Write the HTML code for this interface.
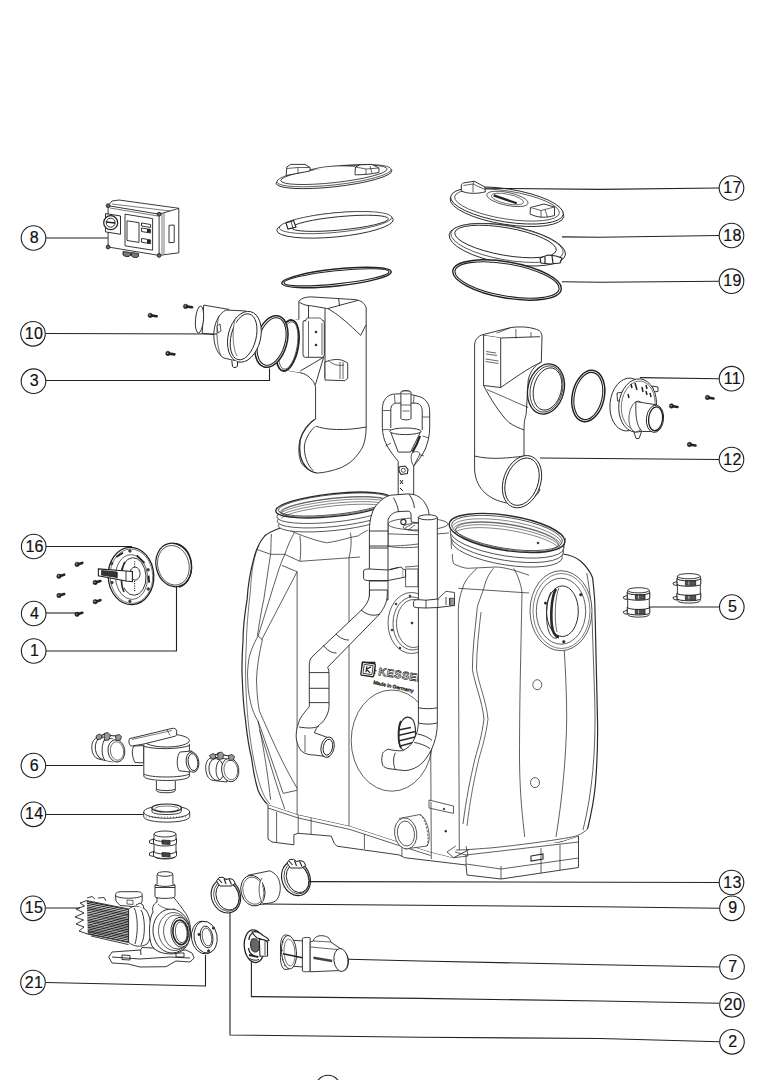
<!DOCTYPE html>
<html><head><meta charset="utf-8"><style>
html,body{margin:0;padding:0;background:#fff;}
body{width:764px;height:1080px;overflow:hidden;position:relative;}
svg{position:absolute;left:0;top:0;}
text{font-family:"Liberation Sans",sans-serif;font-size:16px;fill:#111;letter-spacing:0.3px;stroke:#111;stroke-width:0.2px;text-anchor:middle;}
</style></head><body>
<svg width="764" height="1080" viewBox="0 0 764 1080">
<g id="tank" fill="none" stroke="#2a2a2a" stroke-width="0.75">
<!-- base skirt (behind) -->
<path fill="#fff" stroke-width="0.9" d="M268 804.5 L268 839 L272 842 L293.9 844.8 L293.9 834.7 L298.2 833.3 L331.3 836.1 L334.2 843.3 L337 846.2 L399 854.9 L404.7 857.7 L453.7 863.5 L466 865 L467 875 L501 879 L578.5 867.5 L578.5 836 L560 842 L470 849 L453.7 857.7 L430.6 852 L399 842 L350 826 L298.2 814.6 Z"/>
<path d="M268 808 L298.2 818 L350 829.5 L399 845.5 L430.6 855.5 M276.6 812 L276.6 842 M298.2 815 L298.2 833.3 M311.1 818 L311.1 834 M364.4 834 L364.4 849 M401.9 846 L401.9 856"/>
<path d="M455 852 L466 855 L578.5 842 M466 855 L466 865 M501 866 L501 879 M466 864 L501 869 L578.5 858 M541 848 L541 873 M560 845 L560 870"/>
<path d="M531 856 L543 854 L543 859 L531 861 Z" stroke-width="1.1"/>
<!-- big body fill -->
<path fill="#fff" stroke="none" d="M280 527 C272 534 264 541 258.6 547.5 C254 553 252 558 250.7 563.8 C247 585 243 615 242.3 637 C241.5 660 241.8 680 242.3 690 C243 712 248 745 251.7 758.7 C254 775 260 792 268 804.5 L298.2 814.6 L350 826 L399 842 L430.6 852 L453.7 857.7 L455 848 C480 852 520 848 553 843 C568 840 582 836 587.5 829 C592 815 595 800 595.4 784.7 C598 755 599.3 720 599.3 690 C599 640 597 610 594 607.8 C592 590 590 580 587.5 573.8 C584 566 575 560 562.7 554 L450 548 L390 515 Z"/>
<!-- left tank contour -->
<path stroke-width="1.2" d="M280.4 528 C272 531 266 534 263.8 537 C259 543 256 550 254 557.8 C250 572 248 585 247.1 599.4 C244.5 615 243 630 243 641 C242 655 241.6 668 242.3 680 C243 700 244 710 245.4 719.4 C247 735 249 748 251.7 758.7 C253 770 255 780 258 790.2 C261 797 264 801 267.5 804.4"/>
<path d="M259 545 C254 556 251.5 570 250.5 590 C248 612 246.5 630 246.3 645 C245.5 660 245.3 672 245.8 685 C246.5 705 248 722 250 737 C252 752 255 768 259 782 C262 792 265 799 270 804" stroke-width="0.65"/>
<path d="M256.8 549.4 L270.7 554.3 L284.6 554.3 L299.9 561.3 L349 557.8 L360 557"/>
<path d="M271.4 534 C271 540 271 547 270.7 553.6 C268 570 266 585 263.8 599.4 C261 612 259 625 257.5 635.6 L262.4 639.7 C260 650 257 665 256.5 680 C257 695 258 705 259.6 711.5"/>
<path d="M294.3 532.8 C290 540 287 548 284.6 555 C282 560 280.5 565 279 568.9 C272 590 265 615 258.2 635.6 C253 645 249 655 248.5 662 C247.5 670 247.3 675 247.8 680 C248 690 249 695 250.2 700.5 C252 710 255 716 258 721 C262 740 266 760 270.6 799.7"/>
<path d="M281.8 565.4 L297.1 571.7 L261.7 639.7"/>
<path d="M299.9 535.6 C301 545 301 553 299.9 561.3"/>
<path d="M297.1 571.7 L297.1 814.5"/>
<path d="M258 721 C265 740 275 770 283.2 793.4 L297.4 790.2 M259.6 711.5 C270 735 283 765 297.4 788.7 M259.6 730.4 C268 755 276 785 284.8 809"/>
<!-- neck wavy line + neck side -->
<path d="M282 527 C295 533 312 540 326.6 542.8 C340 541 350 537 358 536 C362 533 366 531 368.5 529.7"/>
<path d="M350.2 532 C352 540 351 550 349 557.8"/>
<path d="M349 557.8 L349 826"/>
<!-- left ring -->
<path fill="#fff" d="M278 510 L280 526 C300 536 340 536 368.5 529.7 L391 518 L390 500 Z" stroke="none"/>
<ellipse cx="334" cy="520" rx="56" ry="10.5" transform="rotate(-6 334 520)" fill="#fff"/>
<ellipse cx="334" cy="515.5" rx="57" ry="11" transform="rotate(-6 334 515.5)" fill="#fff"/>
<ellipse cx="334" cy="511" rx="57.5" ry="11" transform="rotate(-6 334 511)" fill="#fff"/>
<ellipse cx="334" cy="505" rx="58.5" ry="11.5" transform="rotate(-6 334 505)" fill="#fff" stroke-width="1.3"/>
<ellipse cx="334" cy="504.5" rx="56" ry="10" transform="rotate(-6 334 504.5)"/>
<ellipse cx="334" cy="507" rx="53" ry="8.5" transform="rotate(-6 334 507)" stroke-width="0.6"/>
<path d="M279.6 512.1 L280.5 510.9 L282.2 509.6 L284.7 508.3 L288.0 507.0 L292.0 505.7 L296.6 504.4 L301.7 503.1 L307.4 501.9 L313.4 500.8 L319.8 499.8 L326.4 498.9 L333.0 498.1 L339.8 497.5 L346.4 497.0 L352.8 496.7 L359.0 496.5 L364.7 496.5 L370.0 496.6 L374.8 497.0 L379.0 497.4 L382.4 498.0 L385.2 498.8 L387.1 499.6 L388.3 500.6" stroke-width="0.6" stroke="#333"/>
<path d="M280.2 514.2 L281.1 513.1 L282.8 511.9 L285.3 510.6 L288.5 509.3 L292.4 508.1 L297.0 506.8 L302.1 505.6 L307.7 504.5 L313.7 503.4 L320.0 502.4 L326.5 501.5 L333.1 500.7 L339.7 500.1 L346.3 499.6 L352.6 499.3 L358.7 499.1 L364.4 499.1 L369.7 499.2 L374.4 499.5 L378.5 499.9 L381.9 500.5 L384.6 501.2 L386.5 502.0 L387.7 502.9" stroke-width="0.6" stroke="#333"/>
<path d="M280.7 516.4 L281.7 515.3 L283.4 514.1 L285.8 512.9 L289.0 511.7 L292.9 510.5 L297.4 509.3 L302.5 508.1 L308.0 507.0 L313.9 505.9 L320.1 505.0 L326.6 504.1 L333.1 503.3 L339.7 502.7 L346.2 502.2 L352.5 501.9 L358.5 501.7 L364.1 501.6 L369.3 501.7 L374.0 502.0 L378.0 502.4 L381.4 502.9 L384.1 503.6 L386.0 504.3 L387.1 505.2" stroke-width="0.6" stroke="#333"/>
<path d="M281.3 518.6 L282.3 517.5 L283.9 516.4 L286.4 515.3 L289.6 514.1 L293.4 512.9 L297.8 511.7 L302.8 510.6 L308.3 509.5 L314.2 508.5 L320.3 507.5 L326.7 506.7 L333.2 505.9 L339.7 505.3 L346.1 504.8 L352.3 504.5 L358.2 504.3 L363.8 504.2 L368.9 504.3 L373.5 504.5 L377.5 504.8 L380.9 505.3 L383.5 505.9 L385.4 506.7 L386.5 507.5" stroke-width="0.6" stroke="#333"/>
<!-- central front between tanks -->
<path d="M388 533.8 L388 546 C400 546 410 545 418 544 M388 524 L388 533.8 C410 535 430 535 449 533"/>
<ellipse cx="418" cy="524" rx="30" ry="6" fill="#fff"/>
<ellipse cx="420" cy="527" rx="17" ry="4"/>
<path d="M405 528 L412 524 M408 530 L415 525 M425 524 L432 528" stroke-width="0.7"/>
<circle cx="403.4" cy="522" r="2.6" fill="#fff" stroke-width="1.1"/>
<!-- right tank body lines -->
<path stroke-width="1.2" d="M562.7 554 C570 555 577 558 580.8 561.2 C586 566 590 571 592.6 577.7 C594 590 595 600 595 610.7 C596 650 597 690 597.5 720 C598 745 597 765 595.4 784.7 C594 800 591 815 587.5 829"/>
<path d="M586.7 573 C590 590 592 610 592.6 634 C594 680 595 700 595 720 C595 750 593 790 583 830"/>
<path d="M587.5 829 C582 834 577 836 572 837 C550 841 520 845 490 848 C475 849 465 850 455.8 850"/>
<path d="M452.4 554 C452 558 453 562 453.6 563.6 C458 566 463 568 467.7 568.3 L496 567 C505 567 520 572 529 575.3"/>
<path d="M477 568.3 C470 575 465 580 463 587 C460 595 458.3 603 458.3 610.7 L459.3 850"/>
<path d="M493.6 568.3 C488 575 486 580 484.2 587 C480 600 477 605 477 610.7 C475 630 472.4 650 472.4 669.6 C475 685 482 700 484 719 C482 735 478 748 475 758.5 C470 780 466 800 463 824"/>
<path d="M481 612 C479 630 476.5 650 476.5 669.6 C479 685 486 700 488 719 C486 735 482 748 479 758.5 C474 780 470 800 467 826" stroke-width="0.7"/>
<path d="M458.3 588.3 L477 589.5 L529 593"/>
<path d="M513.6 568.3 C518 575 521 585 522 591.8 C521.5 620 521 640 520.7 657.8 C520 690 519.5 720 519.5 760 C520 800 523 820 524.7 837"/>
<path d="M564.3 650.7 C566 680 566.7 700 566.7 720 C566 760 562 800 556 837"/>
<!-- side port -->
<ellipse cx="561" cy="610.7" rx="31" ry="40" fill="#fff"/>
<ellipse cx="561.5" cy="611" rx="28.5" ry="37.5" stroke-width="0.6"/>
<ellipse cx="561" cy="611.2" rx="24.7" ry="33" fill="#fff"/>
<ellipse cx="562.4" cy="611.2" rx="15.9" ry="25.3" fill="#fff" stroke-width="1"/>
<path d="M551 592 C546 600 545 622 549 632 C551 637 554 639 557 638" stroke-width="0.9"/>
<path d="M556 589 C551 597 550 620 553 631 C555 636 557 637 559 637" stroke-width="2.6"/>
<path d="M559 588 C555 596 554 620 557 632" stroke-width="0.7"/>
<circle cx="580.8" cy="594.7" r="1.2" fill="#222"/><circle cx="545.5" cy="603.1" r="1.2" fill="#222"/><circle cx="563.8" cy="641.8" r="1.2" fill="#222"/>
<!-- holes -->
<ellipse cx="537.3" cy="684.7" rx="4.5" ry="5"/>
<ellipse cx="535" cy="782.6" rx="4.5" ry="5"/>
<!-- right ring -->
<path fill="#fff" stroke="none" d="M450 530 L451 548 C480 563 530 565 563 556 L566 538 Z"/>
<path d="M451 530 L451.4 549 M565.5 538 L562.7 554"/>
<ellipse cx="507" cy="549" rx="56" ry="16" transform="rotate(9 507 549)" fill="#fff"/>
<ellipse cx="507" cy="544" rx="57" ry="16.5" transform="rotate(9 507 544)" fill="#fff"/>
<ellipse cx="507" cy="539.5" rx="57.5" ry="16.5" transform="rotate(9 507 539.5)" fill="#fff"/>
<ellipse cx="507" cy="533" rx="58.5" ry="17.5" transform="rotate(9 507 533)" fill="#fff" stroke-width="1.4"/>
<ellipse cx="507" cy="533" rx="56" ry="15.5" transform="rotate(9 507 533)"/>
<ellipse cx="507" cy="537" rx="52" ry="12.5" transform="rotate(9 507 537)" stroke-width="0.6"/>
<path d="M453.2 525.5 L454.5 523.9 L456.6 522.6 L459.5 521.4 L463.1 520.4 L467.3 519.6 L472.2 519.1 L477.5 518.8 L483.4 518.8 L489.5 519.0 L496.0 519.5 L502.6 520.2 L509.3 521.2 L515.9 522.3 L522.4 523.7 L528.7 525.2 L534.6 526.9 L540.1 528.7 L545.2 530.7 L549.6 532.7 L553.4 534.7 L556.5 536.7 L558.9 538.7 L560.4 540.7 L561.2 542.6" stroke-width="0.6" stroke="#333"/>
<path d="M453.8 528.1 L455.1 526.6 L457.2 525.2 L460.0 524.1 L463.5 523.2 L467.7 522.5 L472.5 522.0 L477.8 521.8 L483.6 521.8 L489.7 522.0 L496.0 522.5 L502.6 523.2 L509.2 524.2 L515.7 525.3 L522.2 526.6 L528.4 528.2 L534.2 529.8 L539.7 531.6 L544.7 533.4 L549.1 535.4 L552.9 537.3 L555.9 539.3 L558.3 541.3 L559.8 543.2 L560.6 545.0" stroke-width="0.6" stroke="#333"/>
<path d="M454.4 530.6 L455.7 529.2 L457.7 527.9 L460.5 526.9 L464.0 526.0 L468.1 525.3 L472.8 524.9 L478.1 524.7 L483.8 524.7 L489.8 525.0 L496.1 525.5 L502.5 526.2 L509.1 527.2 L515.6 528.3 L521.9 529.6 L528.1 531.1 L533.9 532.7 L539.3 534.4 L544.2 536.2 L548.6 538.1 L552.3 540.0 L555.4 541.9 L557.7 543.8 L559.2 545.6 L560.0 547.3" stroke-width="0.6" stroke="#333"/>
<path d="M455.0 533.2 L456.2 531.8 L458.2 530.6 L461.0 529.6 L464.4 528.8 L468.5 528.2 L473.2 527.8 L478.3 527.6 L484.0 527.7 L489.9 528.0 L496.1 528.5 L502.5 529.2 L509.0 530.2 L515.4 531.3 L521.7 532.6 L527.8 534.0 L533.5 535.6 L538.9 537.2 L543.8 539.0 L548.1 540.8 L551.8 542.6 L554.8 544.5 L557.1 546.3 L558.6 548.0 L559.4 549.7" stroke-width="0.6" stroke="#333"/>
<circle cx="538" cy="543" r="0.9" fill="#222"/>
<!-- central front details -->
<path d="M388 546 C395 548 405 548 418 547"/>
<rect x="405.7" y="569" width="12.3" height="17.8" fill="#fff"/>
<path d="M405 567 L418 566" />
<ellipse cx="411.5" cy="623" rx="23.5" ry="30.5" fill="#fff"/>
<ellipse cx="412.5" cy="623.5" rx="19.5" ry="26.5"/>
<ellipse cx="413.5" cy="623.5" rx="17" ry="24"/>
<circle cx="412" cy="623" r="1" fill="#222"/>
<circle cx="396" cy="604" r="0.9" fill="#222"/><circle cx="392" cy="630" r="0.9" fill="#222"/><circle cx="400" cy="648" r="0.9" fill="#222"/><circle cx="410" cy="596" r="0.9" fill="#222"/>
<!-- big circle -->
<ellipse cx="391.8" cy="740.6" rx="40.6" ry="50.6" stroke-width="0.75"/>
<path d="M402 721 C398 726 397.5 742 401 748 C404 752 409 751 412 746 C416 740 417 728 413 720 C410 716 405 716 402 721 Z" fill="#fff" stroke-width="1.1"/>
<path d="M398.5 730 L411 727.5 M398 735.5 L415.5 731.5 M398.5 741 L415 737 M400.5 746 L413 742.5" stroke-width="1.5"/>
<path d="M401 721 C398 726 397.5 742 401 748" stroke-width="1.8"/>
<!-- bottom outlet -->
<path d="M399 818.5 L420 814.5 C428 818 432 840 427 846 L405 849" fill="#fff"/>
<path d="M420 814.5 C426 818 430 840 427 846" stroke-dasharray="2 1.5"/>
<ellipse cx="405.7" cy="833.4" rx="11.1" ry="15.6" transform="rotate(-8 405.7 833.4)" fill="#fff"/>
<ellipse cx="405.9" cy="833.5" rx="8.5" ry="12.5" transform="rotate(-8 405.9 833.5)"/>
<path d="M430.4 690 L431.3 859"/>
<path d="M429 800 L453.5 806 L453.5 813.4 L429 808 Z" fill="#fff"/>
<path d="M431 802 L431 808" />
<circle cx="444" cy="809" r="0.8" fill="#222"/>
<circle cx="445.7" cy="831.2" r="0.9" fill="#222"/>
<path d="M455.8 846 L447 852 L453.7 857.7 L468 856 L466 846" />
<!-- logo -->
<rect x="362.3" y="662.4" width="12.3" height="11.1" stroke-width="1.4" fill="#fff"/>
<path d="M365 665 L371.5 665 L371.5 671 L365 671 Z" stroke-width="0.7"/>
<path d="M366.5 666 L366.5 670 M366.5 668 L370 666 M366.5 668 L370 670" stroke-width="1.1"/>
</g>
<g transform="rotate(8.5 368 670)">
<rect x="361.5" y="663" width="13" height="13" rx="1" fill="#fff" stroke="#222" stroke-width="1.3"/>
<rect x="363.5" y="665" width="9" height="9" fill="none" stroke="#222" stroke-width="0.8"/>
<path d="M366.3 666.5 L366.3 672.5 M366.3 669.5 L370.5 666.5 M366.3 669.5 L370.5 672.5 M374.5 669.5 L376.5 669.5" fill="none" stroke="#222" stroke-width="1.2"/>
</g>
<text x="378" y="675" transform="rotate(9 378 675)" style="font-size:10.8px;font-weight:bold;letter-spacing:0.5px;text-anchor:start;fill:#fff;stroke:#222;stroke-width:0.7px">KESSEL</text>
<text x="373" y="684" transform="rotate(12 373 684)" style="font-size:5.2px;font-weight:bold;text-anchor:start;letter-spacing:-0.15px">Made in Germany</text>
<g id="pipes" fill="#fff" stroke="#222" stroke-width="0.9">
<!-- float switch -->
<path d="M398.2 494.6 L398.2 461.2 C392 454 387 447 384.5 440 C382.8 435 382.3 430 382.3 424 L382.3 410 C382.3 400 387 394.5 395 394 L401 393.8 L411 394.5 L417 396 C425 397.5 429.7 403 429.7 412 L429.7 428 C429.7 436 427.5 443 425.4 449 C422 456 417 462 413.7 466 L413.7 494.6 Z"/>
<path d="M390.8 428 L390.8 410 C390.8 405.5 393 403.1 397.5 403.1 L415 403.1 C419.5 403.1 422.2 406 422.2 411 L422.2 430"/>
<path d="M390.3 431 L398.2 452.1 L410.5 452.1 L421 431"/>
<ellipse cx="405.4" cy="431.3" rx="15.7" ry="3.3"/>
<path d="M383 410.5 L390.8 410.5 M383 429.6 L390.8 429.6 M422.2 417 L429.7 417 M422.5 436 L429 438 M391 443 L385.5 446 M418 454 L424 456 M394.5 395 L395 403 M414 395.5 L413.5 403.1" stroke-width="0.7"/>
<path d="M400.9 418.5 L400.9 392.5 C400.9 390 411 390 411 392.5 L411 418.5 C411 420.3 400.9 420.3 400.9 418.5 Z"/>
<ellipse cx="405.95" cy="392.5" rx="5.05" ry="1.6" stroke-width="0.7"/>
<path d="M400.9 405 L411 405 M402.5 411 L409.5 411" stroke-width="0.7"/>
<path d="M420 436 C418 442 415 448 412.5 452" stroke-width="2.2"/>
<path d="M412 453 C415 451 419 451 420 454 L413.7 466 C411 462 410.5 457 412 453 Z" stroke-width="0.8"/>
<path d="M399 467 L405 466 L408 469.5 L407.3 473.5 L401 474.5 L399 471 Z" stroke-width="1.1"/>
<circle cx="403.3" cy="470.3" r="2" stroke-width="0.8"/>
<path d="M400 480 L403 484 M403 480 L400 484 M400 488 L403 491" stroke-width="1"/>
<!-- left pipe U top -->
<path d="M369.4 600 L369.4 531 C369.4 518 373 508 377.7 503.8 C383 498 388 495 393.4 495 L407 493.9 C412 494 414 494.5 416.5 495.5 C420 497 423 500 424.8 502.8 C427.5 507 429 511 429 514.3 L429.5 524 L411.2 522 L411 514 C410.5 512 410 511.2 407 511.2 L400 511.5 C395 511.5 390 514 388 520 L388 600 Z"/>
<path d="M393.4 497.6 C396 502 398 507 398.6 512.2 M409.1 494.4 C412 498 414 503 414.4 508" stroke-width="0.9"/>
<path d="M369.4 531 L388 531 M369.4 546 L388 546 M369.4 548 L388 548"/>
<!-- left pipe diagonal + lower -->
<path d="M369.5 590 L369.5 594 C369.5 600 366 606 359 612.4 L312 656.9 C310 659 309.3 662 309.3 664.7 L309.3 706.6 C305 712 299.5 718 298.8 722.3 C296.5 728 296 733 296.2 738 C297 744 299 748 301.4 751 C305 754 309 755 314.5 755 L329 757 L329 738 L314.5 732.8 C316 727 320 724 322.4 722.3 C326 718 329 712 329 706.6 L329 675 C329 671 328.5 669 327.6 667.3 L378.7 615 C383 610 387.3 603 387.3 594 L387.3 590 Z"/>
<path d="M369.5 581 L387.3 581"/>
<path d="M361 610 C366 614 372 617 380 614 M336 634 C340 638 344 640 349 640 M323 645 C327 650 331 653 336.5 653 M309.3 672.6 L329 672.6 M309.3 688.3 L329 688.3 M309.3 702.6 L329 702.6 M299 727 C306 728 313 729 319 726"/>
<path d="M305 735 L305 752" stroke-width="0.7"/>
<ellipse cx="327.6" cy="747.2" rx="6.5" ry="10.3" transform="rotate(12 327.6 747.2)"/>
<ellipse cx="327.9" cy="747.2" rx="4.6" ry="8" transform="rotate(12 327.9 747.2)"/>
<!-- right pipe -->
<path d="M418.4 517.3 L418.4 723.5 C418 728 417.5 731 416.3 734 C414 740 412 744 409 746.5 C406 749 404 750 402.7 750.7 C398 751 393 750.5 388 749.2 C384 751 382 753 382.3 755 C381.5 759 381.5 762 382.8 765.4 C384 767 386 768 388 768.5 L395.4 769.6 L404.8 770.6 C414 770 422 765 427 757 C432 750 437.3 738 437.3 723.5 L437.3 517.3 Z"/>
<ellipse cx="427.8" cy="517.3" rx="9.45" ry="2.5"/>
<path d="M418.4 707.8 C425 709 431 709 437.3 707.8 M418.4 723 C425 724.5 431 724.5 437.3 723 M417.4 734 C423 735 428 737 432 740.3 M414.2 742.4 C420 743.5 426 745.5 430 748.6 M395.4 752.8 C393 757 393 765 395.4 769.6"/>
<!-- brackets -->
<path d="M363.6 571 C363.6 569.5 366 569 369.4 569 L388 570 L401 567 L403.2 569 L403.2 577.5 L388 580.5 L369.4 580.5 C366 580.5 363.6 580 363.6 578.5 Z"/>
<path d="M388 570 L388 580.5 M390 569.5 L398 567.5"/>
<path d="M403.2 569 L405.5 570 L405.5 577 L403.2 577.5" />
<path d="M413.6 601.5 C413.6 600.3 415 599.7 418.3 599.7 L426 600.2 L437.8 599 L445 597.5 L454.5 598.5 L454.5 605.5 L437.8 607.5 L426 608 L418.3 607.7 C415 607.5 413.6 607 413.6 606 Z"/>
<path d="M426 600.2 L426 608 M437.8 599 L437.8 607.5 M437.8 599 L446 591.3 L454.5 592.5 L454.5 598.5 M446 597 L446 605 M449.5 598 L449.5 605" stroke-width="0.8"/>
<path d="M450 598 L454.5 598.5 L454.5 605.5 L450 605.5 Z" fill="#999" stroke-width="0.6"/>
</g>
<g id="toplids" fill="#fff" stroke="#222" stroke-width="0.9">
<!-- left lid -->
<ellipse cx="334" cy="177" rx="58.2" ry="9.8" transform="rotate(-6.3 334 177)"/>
<ellipse cx="334" cy="175.6" rx="57.5" ry="9.3" transform="rotate(-6.3 334 175.6)" stroke-width="0.7"/>
<ellipse cx="334" cy="174.8" rx="53.5" ry="7.8" transform="rotate(-6.3 334 174.8)" stroke-width="0.8"/>
<path d="M312.5 170 C318 166.5 340 165 355 166.5" stroke-width="0.7"/>
<path d="M286.2 175 L286.8 167 L290.5 164.4 L305 164.4 L310 167.5 L310 171 C302 172.5 294 174 286.2 175.5 Z"/>
<path d="M287 168.5 L298 167.5 L310 167.5 M298 167.5 L298 173.5" stroke-width="0.7"/>
<path d="M355 173.5 L355.5 167 L360 164.8 L372 164.4 L378.9 168 L378.9 172.5 C372 174 362 175 355 174.8 Z"/>
<path d="M355.5 167 L366 169 L378.9 168 M366 169 L366 174.5 M370 166 L372 173" stroke-width="0.7"/>
<!-- left ring -->
<ellipse cx="335" cy="225" rx="58.5" ry="12" transform="rotate(-5.4 335 225)"/>
<ellipse cx="335.5" cy="222.6" rx="56.5" ry="9.8" transform="rotate(-5.4 335.5 222.6)" stroke-width="0.7"/>
<ellipse cx="340" cy="223.3" rx="48.6" ry="6.7" transform="rotate(-5.4 340 223.3)"/>
<path d="M286 223 L293.5 220.5 L296 227 L288 229 Z" stroke-width="1.1"/>
<path d="M291 221.5 L293 228" stroke-width="0.8"/>
<!-- left gasket -->
<ellipse cx="336.5" cy="277.5" rx="55" ry="8.5" transform="rotate(-6 336.5 277.5)" stroke-width="1.4"/>
<ellipse cx="336.5" cy="277.3" rx="52.8" ry="6.6" transform="rotate(-6 336.5 277.3)" stroke-width="1.1"/>
<!-- right lid 17 -->
<ellipse cx="507" cy="207.5" rx="57.5" ry="17" transform="rotate(9 507 207.5)"/>
<ellipse cx="507" cy="205.5" rx="57" ry="16.5" transform="rotate(9 507 205.5)"/>
<ellipse cx="507" cy="205" rx="53" ry="14" transform="rotate(9 507 205)" stroke-width="0.7"/>
<ellipse cx="507.4" cy="198.9" rx="21" ry="6.5" transform="rotate(12 507.4 198.9)" stroke-width="0.7"/>
<ellipse cx="507.4" cy="199" rx="16.5" ry="4.8" transform="rotate(12 507.4 199)" stroke-width="0.6"/>
<path d="M493.7 195.4 L516.8 203.3" stroke-width="2.2"/>
<path d="M461.3 191 L461.3 185 C462 183.5 463 183 463.4 182.9 L474.4 181.3 L484.8 187 L485.4 191.8 C477 194 468 194 461.3 191 Z"/>
<path d="M463.4 185.5 L473 184 L484.8 189.5 M473 184 L474.4 181.3 M473 184 L473 192.5" stroke-width="0.7"/>
<path d="M530 214 L530.5 207.5 L544 204 L554.5 207 L554.5 215.5 C546 218 538 218 530 214 Z"/>
<path d="M530.5 207.5 L541 210.5 L554.5 207 M541 210.5 L541 217.5 M545 209.5 L547.5 217" stroke-width="0.7"/>
<!-- right ring 18 -->
<ellipse cx="507.3" cy="244.7" rx="59" ry="19" transform="rotate(10 507.3 244.7)"/>
<ellipse cx="507" cy="243" rx="57" ry="17" transform="rotate(10 507 243)" stroke-width="0.7"/>
<ellipse cx="505.5" cy="241.5" rx="51.5" ry="13.8" transform="rotate(10 505.5 241.5)"/>
<path d="M540 258 L548 255 L556 256 L562 258 L560 263 L550 264 L541 263 Z" stroke-width="1.2"/>
<path d="M545 257 L545 263 M552 256 L553 263" stroke-width="1.2"/>
<!-- right gasket 19 -->
<ellipse cx="507" cy="280" rx="55" ry="18" transform="rotate(10 507 280)" stroke-width="1.4"/>
<ellipse cx="507" cy="280" rx="52.8" ry="16" transform="rotate(10 507 280)" stroke-width="1.1"/>
</g>
<g id="box8" fill="#fff" stroke="#222" stroke-width="0.9">
<path d="M108.1 205.7 L112 201 L119 200 L178.8 208.3 L178.8 252.8 L159.1 255.4 L108.1 247 Z"/>
<path d="M108.1 205.7 L159.1 214.2 L178.8 208.3 M159.1 214.2 L159.1 255.4"/>
<path d="M110 208 L158 216 M112 204 L170 211" stroke-width="0.6"/>
<path d="M162 214 L162 254 M164 213 L164 254" stroke-width="0.6"/>
<rect x="105.5" y="213.6" width="15" height="18.3" transform="skewY(9)" transform-origin="105.5 213.6"/>
<circle cx="110.7" cy="222.7" r="7" stroke-width="1.2"/>
<circle cx="110.7" cy="222.7" r="4.5"/>
<path d="M106 222 L115 223" stroke-width="1.5"/>
<path d="M125 214.2 L152.6 218.6 L152.6 250.2 L125 245.8 Z"/>
<path d="M127 220.8 L139 222.7 L139 242.4 L127 240.5 Z"/>
<path d="M141.5 223 L150.6 224.5 L150.6 227.5 L141.5 226 Z M141.5 228 L150.6 229.5 L150.6 233 L141.5 231.5 Z M141.5 238.4 L150.6 239.9 L150.6 243.7 L141.5 242.2 Z"/>
<rect x="147" y="229" width="3" height="3.5" fill="#222" stroke="none"/>
<rect x="147" y="240" width="3" height="3.5" fill="#222" stroke="none"/>
<path d="M169 225.3 L174.2 225 L174.2 242.4 L169 242.7 Z"/>
<circle cx="108.1" cy="205.7" r="1.9" fill="#666"/>
<circle cx="108.1" cy="247" r="1.9" fill="#666"/>
<circle cx="159.1" cy="214.2" r="1.9" fill="#666"/>
<circle cx="159.1" cy="255.4" r="1.9" fill="#666"/>
<path d="M123 251.5 L123 255 C125 257 129 257 130.5 255.5 L130.5 252.5 Z M131.5 252.5 L131.5 256 C133.5 258 137 258 138.5 256.5 L138.5 253.5 Z" fill="#777" stroke-width="0.9"/>
</g>
<g id="tpipes" fill="#fff" stroke="#222" stroke-width="0.9">
<!-- left T pipe -->
<path d="M298.9 301 C302 298 306 296.9 311.2 296.9 L355.2 299.6 C361 300.5 364.8 303 366.2 308 L366.2 427 C366 438 364 446 360.4 450.7 C354 461 345 467 335.6 469.5 C328 472 320 473 316.8 473 C310 471 304 468 301 462 C298 455 298.5 445 300.3 438.9 C303 430 309 422 315.6 418.9 L315.6 387 C314 383 313.5 381 312.6 380.7 C309 376 305 373.5 299.5 372.5 L287.9 370.4 L289.2 321.6 L298.9 319.5 Z"/>
<path d="M299.5 302.4 C303 304.5 307 305.8 311.2 305.8 L327.7 308.6 L358 300.3"/>
<path d="M338.7 299 L339.5 306"/>
<path d="M327.7 308.6 C338 314 350 325 360.7 335.4 L366.2 324.4"/>
<path d="M308.5 305.5 L308.5 320.2 M325 308.6 L325 378"/>
<path d="M315.6 426 C325 430 345 431 366.3 427"/>
<path d="M315.6 418.9 C309 423 302 432 300.3 440 C298.8 450 299.5 460 306.2 467.2 C309 470.5 313 472.5 316.8 473" stroke-width="1.1"/>
<path d="M315 426.5 C309 432 305 440 304.4 446 C304 455 307 465 313.3 470.7"/>
<path d="M323.6 357.3 L300.2 371 M323.6 357.3 L315.4 384.8"/>
<rect x="303" y="320.2" width="21.3" height="37.1" rx="2.5"/>
<path d="M308.5 321 L308.5 357 M322 323 L322 355 M305 322 L307 318 L320 318 L324.3 322" stroke-width="0.7"/>
<circle cx="316" cy="332" r="0.9" fill="#222"/><circle cx="316" cy="345" r="0.9" fill="#222"/>
<path d="M325 362 C330 360 338 358 344 361 L347.7 363 L347.7 378 L345 380.7 L325 380 Z"/>
<path d="M340 362 L340 379 M343 362 L343 379 M328 360 C333 365 338 366 344 365" stroke-width="0.7"/>
<path d="M276.5 335 C278 326 284 320 290 320 L299.5 319.5 L299.5 372.5 L288 370.4 C282 370 277 360 276.5 350 Z" stroke="none"/>
<ellipse cx="287.5" cy="345.5" rx="10.8" ry="25.8" transform="rotate(10 287.5 345.5)" stroke-width="1.8"/>
<ellipse cx="288.2" cy="345.5" rx="9" ry="24" transform="rotate(10 288.2 345.5)" stroke-width="0.7"/>
<!-- gasket 3 -->
<ellipse cx="271.4" cy="341.5" rx="15.5" ry="26.5" transform="rotate(16 271.4 341.5)" stroke-width="1.5"/>
<ellipse cx="271.6" cy="341.5" rx="13.4" ry="24.4" transform="rotate(16 271.6 341.5)" stroke-width="1.1"/>
<!-- adapter 10 -->
<path d="M203.7 305.1 L228.9 309.4 L226 336 L213.8 334.6 L202.2 333.2 Z"/>
<ellipse cx="199.5" cy="319.5" rx="4" ry="13.5" transform="rotate(5 199.5 319.5)"/>
<path d="M226 310 C218 314 213.5 325 213.8 336 C214 346 218 355 224 358 L240 362 L246 311 Z"/>
<path d="M219 316 C216 325 216 345 221 356" stroke-width="0.7"/>
<path d="M217 326 L220 324 L221 331 L218 333 Z" stroke-width="0.8"/>
<ellipse cx="244.4" cy="336.8" rx="16.2" ry="25.9" transform="rotate(14 244.4 336.8)"/>
<ellipse cx="243.6" cy="336.8" rx="12.5" ry="23.5" transform="rotate(14 243.6 336.8)"/>
<path d="M236 317 C232 326 232 348 237 356" stroke-width="0.6"/>
<path d="M231.8 360.6 L232.5 366.5 C233.5 368 236.5 368 237.5 366 L237.5 361.5" stroke-width="1"/>
<!-- right T pipe -->
<path d="M474.6 345 C474.6 340 478 336 482.9 334.6 L510.4 327.7 C520 326 532 327 539.2 330.5 C541 332 542 334 542 337 L541.3 362.1 C534 366 530 372 528.2 380 L526.2 414.3 C525 418 524 422 524 430 L524 456 L540 490 C535 500 522 505 507 503 C490 500 476 490 474.6 470 Z"/>
<path d="M482.9 335.3 L500.7 338 L539.9 336.7"/>
<path d="M496.6 333.2 L510.4 327.7 M515.9 329 L515.9 338.5 M531 332 L531 337.2" stroke-width="0.7"/>
<path d="M483.6 335.5 L483.6 385.5 L500.7 387.5 L500.7 338"/>
<path d="M500.7 387.5 C512 380 528 368 541.3 362.1"/>
<path d="M483.6 385.5 C490 398 500 414 509 422.6 C514 426 519 428 524 430"/>
<path d="M487 389.6 C500 395 515 402 528.2 407.5" stroke-width="0.7"/>
<path d="M474.4 456 C490 460 510 458 524 456"/>
<ellipse cx="546" cy="389" rx="18" ry="25.4" transform="rotate(14 546 389)" stroke-width="1.3"/>
<ellipse cx="546.5" cy="389" rx="16" ry="23.5" transform="rotate(14 546.5 389)" stroke-width="0.8"/>
<ellipse cx="547.5" cy="389" rx="13.8" ry="21.5" transform="rotate(14 547.5 389)"/>
<ellipse cx="522" cy="481.7" rx="18.5" ry="27" transform="rotate(20 522 481.7)"/>
<ellipse cx="522" cy="481.7" rx="16" ry="24.5" transform="rotate(20 522 481.7)"/>
<path d="M486 351.5 L496 353 M486 354 L497 355.5 M485.5 359 L498.5 361 M485.5 361.5 L498.5 363.5" stroke-width="0.9" stroke="#555"/>
<!-- gasket 11b -->
<ellipse cx="588.3" cy="396" rx="16" ry="26" transform="rotate(12 588.3 396)" stroke-width="1.5"/>
<ellipse cx="588.3" cy="396" rx="13.9" ry="23.9" transform="rotate(12 588.3 396)" stroke-width="1.1"/>
<!-- part 11 -->
<ellipse cx="628" cy="404.5" rx="18" ry="26.5" transform="rotate(6 628 404.5)"/>
<path d="M617 393 L623.6 392 L623.6 401.6 L617.5 401 Z M652.6 386 L658 387 L658 391.4 L653 392 Z M633.8 431.5 L641.6 431.5 L639 438.5 L636 438.5 Z" stroke-width="0.9"/>
<ellipse cx="637.6" cy="405.5" rx="18.8" ry="26.7" transform="rotate(6 637.6 405.5)"/>
<ellipse cx="638.2" cy="405.5" rx="16.8" ry="24.5" transform="rotate(6 638.2 405.5)" stroke-width="0.6"/>
<path d="M631 384 L632 388 M635 383 L637 390 M642 387 L643 392 M646 385 L647 389 M646 391 L647 395 M650 393 L651 397 M628 394 L629 398" stroke-width="1.5"/>
<ellipse cx="637" cy="416.5" rx="8" ry="15.5" transform="rotate(6 637 416.5)" stroke-width="0.7"/>
<path d="M636 401.6 L656.5 404.8 L654.2 431.5 L642.4 431.5 C638 428 635 420 636 401.6 Z"/>
<ellipse cx="655" cy="418.8" rx="8.6" ry="13.7" transform="rotate(6 655 418.8)"/>
<ellipse cx="655.6" cy="418.8" rx="7" ry="12" transform="rotate(6 655.6 418.8)" stroke-width="1.3"/>
</g>
<g id="screws" fill="#222" stroke="#222">
<path d="M77.1 564.4 L82.3 562.9" stroke-width="2.6" stroke-linecap="round"/><circle cx="77.1" cy="564.4" r="2.2" stroke-width="0.6"/><circle cx="76.7" cy="564.1" r="0.8" fill="#aaa" stroke="none"/>
<path d="M59.0 576.2 L64.2 574.7" stroke-width="2.6" stroke-linecap="round"/><circle cx="59.0" cy="576.2" r="2.2" stroke-width="0.6"/><circle cx="58.6" cy="575.9" r="0.8" fill="#aaa" stroke="none"/>
<path d="M95.2 582.5 L100.4 581.0" stroke-width="2.6" stroke-linecap="round"/><circle cx="95.2" cy="582.5" r="2.2" stroke-width="0.6"/><circle cx="94.8" cy="582.2" r="0.8" fill="#aaa" stroke="none"/>
<path d="M59.0 595.5 L64.2 594.0" stroke-width="2.6" stroke-linecap="round"/><circle cx="59.0" cy="595.5" r="2.2" stroke-width="0.6"/><circle cx="58.6" cy="595.2" r="0.8" fill="#aaa" stroke="none"/>
<path d="M95.2 601.7 L100.4 600.2" stroke-width="2.6" stroke-linecap="round"/><circle cx="95.2" cy="601.7" r="2.2" stroke-width="0.6"/><circle cx="94.8" cy="601.4" r="0.8" fill="#aaa" stroke="none"/>
<path d="M77.1 614.3 L82.3 612.8" stroke-width="2.6" stroke-linecap="round"/><circle cx="77.1" cy="614.3" r="2.2" stroke-width="0.6"/><circle cx="76.7" cy="614.0" r="0.8" fill="#aaa" stroke="none"/>
<path d="M150.2 315.4 L156.7 316.3" stroke-width="2.6" stroke-linecap="round"/><circle cx="150.2" cy="315.4" r="2.2" stroke-width="0.6"/><circle cx="149.8" cy="315.1" r="0.8" fill="#aaa" stroke="none"/>
<path d="M185.6 306.4 L192.1 307.3" stroke-width="2.6" stroke-linecap="round"/><circle cx="185.6" cy="306.4" r="2.2" stroke-width="0.6"/><circle cx="185.2" cy="306.1" r="0.8" fill="#aaa" stroke="none"/>
<path d="M167.9 353.5 L174.4 354.4" stroke-width="2.6" stroke-linecap="round"/><circle cx="167.9" cy="353.5" r="2.2" stroke-width="0.6"/><circle cx="167.5" cy="353.2" r="0.8" fill="#aaa" stroke="none"/>
<path d="M671.5 406.0 L677.5 407.0" stroke-width="2.6" stroke-linecap="round"/><circle cx="671.5" cy="406.0" r="2.2" stroke-width="0.6"/><circle cx="671.1" cy="405.7" r="0.8" fill="#aaa" stroke="none"/>
<path d="M707.5 397.5 L713.5 398.5" stroke-width="2.6" stroke-linecap="round"/><circle cx="707.5" cy="397.5" r="2.2" stroke-width="0.6"/><circle cx="707.1" cy="397.2" r="0.8" fill="#aaa" stroke="none"/>
<path d="M689.5 444.5 L695.5 445.5" stroke-width="2.6" stroke-linecap="round"/><circle cx="689.5" cy="444.5" r="2.2" stroke-width="0.6"/><circle cx="689.1" cy="444.2" r="0.8" fill="#aaa" stroke="none"/>
</g>
<g fill="#fff" stroke="#222" stroke-width="0.9">
<!-- flange 16 -->
<ellipse cx="131" cy="576" rx="22.8" ry="28.7" transform="rotate(-3 131 576)" stroke-width="1.3"/>
<ellipse cx="131.4" cy="576.2" rx="21.3" ry="27.2" transform="rotate(-3 131.4 576.2)" stroke-width="0.6"/>
<ellipse cx="131.5" cy="577" rx="16" ry="22.3" transform="rotate(-3 131.5 577)" stroke-width="0.7"/>
<ellipse cx="133.5" cy="576.5" rx="12.5" ry="18.8" transform="rotate(-3 133.5 576.5)" stroke-width="0.9"/>
<path d="M125 562 C121 568 120 584 124 592" stroke-width="1.6"/>
<path d="M116.3 557 L123 552.8 M136.7 555.3 L144.4 563 M148.6 575.7 L149.2 582.6" stroke-width="1.8"/>
<circle cx="129.9" cy="551" r="1.2" fill="#666"/><circle cx="111.6" cy="563.4" r="1.2" fill="#666"/><circle cx="148.2" cy="569.8" r="1.2" fill="#666"/><circle cx="112" cy="582.6" r="1.2" fill="#666"/><circle cx="148.2" cy="589" r="1.2" fill="#666"/><circle cx="129.9" cy="601.3" r="1.2" fill="#666"/>
<path d="M134.6 561.3 L134.6 591.9" stroke-dasharray="1 1.2" stroke-width="1.2"/>
<ellipse cx="135" cy="573.6" rx="5.1" ry="6.5"/>
<path d="M98.4 568.9 L126 571 L132.4 571.5 L132.4 581.7 L126 581 L98.4 575.7 Z" stroke-width="1.1"/>
<path d="M101.5 570.5 L117 572 L117 577.5 L101.5 575 Z" fill="#333" stroke-width="0.8"/>
<path d="M126 571 L126 581 M117 572 L117 578.5"/>
</g>
<g fill="none" stroke="#222">
<!-- gasket 1 -->
<ellipse cx="173.7" cy="565" rx="17.6" ry="22" transform="rotate(-14 173.7 565)" stroke-width="1.2"/>
<path d="M176 543.5 C186 546 192 556 191.5 568 C191 578 186 585 179 587" stroke-width="1.4"/>
<ellipse cx="173.4" cy="565.3" rx="15.6" ry="20" transform="rotate(-14 173.4 565.3)" stroke-width="0.7"/>
</g>
<g fill="#fff" stroke="#222" stroke-width="0.9">
<!-- couplings 5 -->
<path d="M627.7 590.3 L627.7 614.5 C627.7 618.0 649.3 618.0 649.3 614.5 L649.3 590.3"/>
<ellipse cx="638.5" cy="590.3" rx="10.8" ry="2.6"/>
<path d="M627.2 592.5 C627.2 595.5 649.8 595.5 649.8 592.5 L649.8 598.0 C649.8 601.0 627.2 601.0 627.2 598.0 Z" stroke-width="1"/>
<path d="M627.2 595.5 L623.2 597.0 L624.2 599.0 L627.2 599.5 Z" stroke-width="0.9"/>
<path d="M635.3 595.0 L645.0 595.0 L645.0 599.3 L635.3 599.3 Z" fill="#555" stroke-width="0.8"/>
<path d="M638.5 595.5 L638.5 598.8" stroke="#fff" stroke-width="0.6"/>
<path d="M627.2 607.2 C627.2 610.2 649.8 610.2 649.8 607.2 L649.8 612.7 C649.8 615.7 627.2 615.7 627.2 612.7 Z" stroke-width="1"/>
<path d="M627.2 610.2 L623.2 611.7 L624.2 613.7 L627.2 614.2 Z" stroke-width="0.9"/>
<path d="M635.3 609.7 L645.0 609.7 L645.0 614.0 L635.3 614.0 Z" fill="#555" stroke-width="0.8"/>
<path d="M638.5 610.2 L638.5 613.5" stroke="#fff" stroke-width="0.6"/>
<path d="M677.4 576.2 L677.4 600.5 C677.4 604.0 700.3 604.0 700.3 600.5 L700.3 576.2"/>
<ellipse cx="688.8" cy="576.2" rx="11.4" ry="2.6"/>
<path d="M676.9 578.5 C676.9 581.5 700.8 581.5 700.8 578.5 L700.8 584.0 C700.8 587.0 676.9 587.0 676.9 584.0 Z" stroke-width="1"/>
<path d="M676.9 581.5 L672.9 583.0 L673.9 585.0 L676.9 585.5 Z" stroke-width="0.9"/>
<path d="M685.4 581.0 L695.7 581.0 L695.7 585.3 L685.4 585.3 Z" fill="#555" stroke-width="0.8"/>
<path d="M688.8 581.5 L688.8 584.8" stroke="#fff" stroke-width="0.6"/>
<path d="M676.9 593.0 C676.9 596.0 700.8 596.0 700.8 593.0 L700.8 598.5 C700.8 601.5 676.9 601.5 676.9 598.5 Z" stroke-width="1"/>
<path d="M676.9 596.0 L672.9 597.5 L673.9 599.5 L676.9 600.0 Z" stroke-width="0.9"/>
<path d="M685.4 595.5 L695.7 595.5 L695.7 599.8 L685.4 599.8 Z" fill="#555" stroke-width="0.8"/>
<path d="M688.8 596.0 L688.8 599.3" stroke="#fff" stroke-width="0.6"/>
</g>
<g fill="#fff" stroke="#222" stroke-width="0.9">
<!-- left clamp pair -->
<path d="M100 736.5 C94 737 91.5 743 91.8 748 C92 754 95 759 100.7 759.5 L113 762 L113 739 Z"/>
<path d="M100 736.5 C95 742 95 754 100.7 759.5" stroke-width="0.6"/>
<ellipse cx="102.8" cy="748.5" rx="7.5" ry="11" transform="rotate(-8 102.8 748.5)"/>
<path d="M103 737.5 L114 739.5 L114 762 L103 759.5" stroke="none"/>
<path d="M105.4 738 C101 744 101 756 105.4 761"/>
<ellipse cx="116.4" cy="750.9" rx="8.4" ry="11.2" transform="rotate(-8 116.4 750.9)"/>
<path d="M107 739 L115 739.8 M106 761 L115 762.3" stroke="none"/>
<ellipse cx="117" cy="751" rx="6.6" ry="9.3" transform="rotate(-8 117 751)" stroke-width="0.6"/>
<path d="M96 736 L99 734 L102 735.5 L101 739 L97 739.5 Z M104 733.5 L108 732.5 L110.5 735 L109 740 L104.5 740.5 Z M115.5 735.5 L119 734.5 L121.5 736.5 L120.5 740 L116 740.5 Z" fill="#999" stroke-width="0.8"/>
<path d="M101 735.5 L105 734 M110 735.5 L116 736" stroke-width="1"/>
<!-- valve lever + body -->
<path d="M134 746 C131 750 132.5 758 135 762.5 L143.8 762.9 L143.8 745.6 Z"/>
<path d="M143.8 744.5 L143.8 776 C143.8 782 189.4 782 189.4 776 L189.4 744"/>
<path d="M143.8 774 C150 778 182 778 189.4 774"/>
<path d="M143.8 746.4 C155 749.5 178 749.5 189.4 745.6"/>
<ellipse cx="166.6" cy="740.5" rx="22.8" ry="6.5"/>
<path d="M156.4 781 L156.4 790.5 C156.4 793.5 175.3 793.5 175.3 790.5 L175.3 781"/>
<path d="M157 789.5 C162 791 170 791 175 789.5"/>
<path d="M130.5 745.6 C128.5 744 128.5 740 129.7 738.6 L172.1 728.4 C174 728 176.5 729 176.8 730.7 L176.5 734.5 C176 736 175.3 736.2 175.3 736.2 L143.8 744 L132 746 Z"/>
<path d="M132 739.5 L172 730.5 M167 729.5 L170 735.5" stroke-width="0.6"/>
<!-- right outlet -->
<path d="M179.2 770.8 L190 772 L192 751 L180 752 C177 755 176 766 179.2 770.8 Z"/>
<ellipse cx="192.5" cy="762.1" rx="6.3" ry="10.2" transform="rotate(-8 192.5 762.1)"/>
<ellipse cx="193" cy="762.1" rx="4.8" ry="8.5" transform="rotate(-8 193 762.1)"/>
<!-- right clamp pair -->
<path d="M213 757 C207 758 205 764 205.9 770 C206.5 776 209 780 213.5 780.5 L227 782 L227 759 Z"/>
<ellipse cx="216.5" cy="769.5" rx="7.5" ry="11" transform="rotate(-8 216.5 769.5)"/>
<path d="M219.2 760.5 C215 765 215 776 219.2 779.4"/>
<ellipse cx="230.2" cy="770" rx="8.6" ry="11.8" transform="rotate(-8 230.2 770)"/>
<ellipse cx="230.8" cy="770" rx="6.8" ry="9.8" transform="rotate(-8 230.8 770)" stroke-width="0.6"/>
<path d="M209.5 755.5 L213 753.5 L216 755 L215 758.5 L211 759 Z M217.5 753 L221.5 752 L224 754.5 L222.5 759 L218 759.5 Z M228.5 755.5 L232 754.5 L234.5 756.5 L233.5 760 L229 760.5 Z" fill="#999" stroke-width="0.8"/>
<path d="M215 755 L219 753.5 M223.5 755 L229 756" stroke-width="1"/>
<!-- ring 14 -->
<path d="M143.7 812 L143.7 816.5 C143.7 824 189.7 824 189.7 816.5 L189.7 812"/>
<ellipse cx="166.7" cy="812" rx="23" ry="6.3"/>
<path d="M152 808 L152 811.5 C152 815.5 181.3 815.5 181.3 811.5 L181.3 808"/>
<ellipse cx="166.7" cy="808" rx="14.7" ry="4" stroke-width="1.2"/>
<ellipse cx="166.7" cy="808.8" rx="12" ry="2.8" stroke-width="0.6"/>
<path d="M146 817 L187 817" stroke-dasharray="1 2" stroke-width="0.6"/>
<!-- coupling below -->
<path d="M154 834 L154 856 C154 860 176 860 176 856 L176 834"/>
<ellipse cx="165" cy="834" rx="11" ry="3"/>
<path d="M153.5 838.5 C153.5 842.5 176.5 842.5 176.5 838.5 L176.5 843 C176.5 847 153.5 847 153.5 843 Z M153.5 851 C153.5 855 176.5 855 176.5 851 L176.5 855.5 C176.5 859.5 153.5 859.5 153.5 855.5 Z" stroke-width="0.9"/>
<path d="M149.5 840.5 L153.5 839 L153.5 844 L149.5 843 Z M149.5 853 L153.5 851.5 L153.5 856.5 L149.5 855.5 Z" fill="#fff" stroke-width="0.9"/>
<path d="M162 840 L170 840.5 L170 844.5 L162 844 Z M162 852.5 L170 853 L170 857 L162 856.5 Z" fill="#444" stroke-width="0.8"/>
</g>
<g fill="#fff" stroke="#222" stroke-width="0.9">
<!-- base plate -->
<path d="M108.7 957 L112 952 L140.6 950 L142 947.5 L153 948 L160 952 L186 950 L192 953 L194.2 958 L190 962 L176 961 L166 966.7 L140 967 L128 964 L112 963 Z"/>
<path d="M112 957 L140 959 L170 957 L190 958 M140.6 950 L141 955 M122 955 L130 955.5 L130 960 L122 959.5 Z M176 953 L184 953 L184 957 L176 957 Z"/>
<!-- motor -->
<path d="M86.8 900.6 L128.6 909 L128.6 942.5 L87.8 934.1 C84 928 83 910 86.8 900.6 Z"/>
<g stroke-width="1.1" stroke="#2a2a2a">
<path d="M86.0 901.4 L128.6 909.8 M86.0 903.1 L128.6 911.5 M84.5 904.8 L128.6 913.2 M84.5 906.5 L128.6 914.9 M84.5 908.1 L128.6 916.5 M84.5 909.8 L128.6 918.2 M84.5 911.5 L128.6 919.9 M84.5 913.2 L128.6 921.6 M84.5 914.8 L128.6 923.2 M84.5 916.5 L128.6 924.9 M84.5 918.2 L128.6 926.6 M84.5 919.9 L128.6 928.3 M84.5 921.5 L128.6 929.9 M84.5 923.2 L128.6 931.6 M84.5 924.9 L128.6 933.3 M84.5 926.6 L128.6 935.0 M84.5 928.2 L128.6 936.6 M84.5 929.9 L128.6 938.3 M86.0 931.6 L128.6 940.0 M86.0 933.3 L128.6 941.7"/>
</g>
<path d="M91 936 L128.6 944.6" />
<path d="M86.8 900.6 L80 903 L84.5 906 L76 909 L84 913 L75 917 L83.5 920 L76 924 L84 927 L79 931 L87.8 934.1" stroke-width="0.9"/>
<path d="M87 898 L92 896.5 L95 899 M98 898 L104 897.5 L106 901" stroke-width="0.9"/>
<!-- terminal box -->
<path d="M115.5 896 C115 893 117 891.7 122 891.7 L137 891.7 C141 891.7 142.3 893 142.3 896 L142 902 L138 906.9 L120 905.5 L116 901 Z"/>
<path d="M116 896 C120 899 137 899 142 896" />
<path d="M127 900 L127 904 L133 904.5 L133 900.5 Z" stroke-width="0.7"/>
<!-- motor end bell / adapter -->
<path d="M128.6 909 C133 905 140 905 146 910 C152 918 153 938 147 944 C141 948 133 946 128.6 942.5 Z"/>
<path d="M134 908 C137 912 139 930 135 944 M141 910 C145 916 146 936 141 945"/>
<path d="M136 905 L140 903 L143 905 L144 909" />
<!-- volute -->
<path d="M157 896.6 L157 902 C153 904 152 908 153 912 C149 918 148 938 152 946 C156 952 165 955 176 953.5 C186 951 190.5 942 190.5 931 C190.5 922 188 916 184.6 912 C180 905 175 899 173 896.6 Z"/>
<ellipse cx="171.5" cy="931" rx="18.5" ry="22" transform="rotate(-6 171.5 931)"/>
<ellipse cx="174" cy="931.5" rx="15.5" ry="19" transform="rotate(-6 174 931.5)" stroke-width="0.7"/>
<ellipse cx="176.5" cy="932" rx="13" ry="17" transform="rotate(-6 176.5 932)" stroke-width="0.7"/>
<ellipse cx="180.5" cy="932.3" rx="9.5" ry="15" transform="rotate(-6 180.5 932.3)"/>
<ellipse cx="180.5" cy="932.3" rx="7.6" ry="12.4" transform="rotate(-6 180.5 932.3)" stroke-width="1.6"/>
<ellipse cx="181.2" cy="932.3" rx="5.8" ry="10.5" transform="rotate(-6 181.2 932.3)" stroke-width="0.7"/>
<path d="M158 904 C162 908 168 910 175 909" stroke-width="0.7"/>
<!-- discharge -->
<path d="M155 885 L155 896.6 C155 899 175 899 175 896.6 L175 885 Z"/>
<path d="M157.1 885 L157.1 875 C157.1 871.5 172.9 871.5 172.9 875 L172.9 885"/>
<ellipse cx="165" cy="874" rx="7.9" ry="2.3"/>
<path d="M155 887.5 L175 887.5 M155 884.5 C160 887 170 887 175 884.5"/>
<!-- flange 21 -->
<ellipse cx="204" cy="937.5" rx="12.5" ry="16.5" transform="rotate(-10 204 937.5)"/>
<ellipse cx="205.6" cy="937.2" rx="11.5" ry="16" transform="rotate(-10 205.6 937.2)"/>
<ellipse cx="206.6" cy="937" rx="6.2" ry="11" transform="rotate(-10 206.6 937)"/>
<ellipse cx="207" cy="937" rx="4.6" ry="9" transform="rotate(-10 207 937)" stroke-width="0.7"/>
<circle cx="213.5" cy="928.2" r="1.1" fill="#444"/><circle cx="199" cy="934.4" r="1.1" fill="#444"/><circle cx="208.6" cy="950.9" r="1.1" fill="#444"/>
</g>
<g fill="#fff" stroke="#222" stroke-width="0.9">
<!-- clamp 2 -->
<ellipse cx="225.9" cy="896" rx="14.4" ry="17.3" transform="rotate(-20 225.9 896)" stroke-width="1.1"/>
<ellipse cx="226.6" cy="896" rx="12.6" ry="15.6" transform="rotate(-20 226.6 896)" stroke-width="0.7"/>
<ellipse cx="227.5" cy="896" rx="11.2" ry="14.4" transform="rotate(-20 227.5 896)" fill="none"/>
<path d="M216.5 881 L219 877.5 L223 877.3 L226 879.5 L230 878.5 L233.5 880 L235.2 883.5 L231 886 L220 886 Z" stroke-width="1"/>
<path d="M218.5 879 L222 883 M224 878.5 L226 884 M229 879 L231.5 884.5" stroke-width="1.1"/>
<!-- sleeve 9 -->
<path d="M248.2 875.2 L269.8 870.8 C275 873 279 877 279.9 883.8 C281 890 279.5 896 277 899.6 C275 902 271 903 268.4 903.2 L254 905.4 Z"/>
<ellipse cx="252.9" cy="890.7" rx="11.9" ry="15.5" transform="rotate(-15 252.9 890.7)"/>
<ellipse cx="253.3" cy="890.7" rx="10.3" ry="13.8" transform="rotate(-15 253.3 890.7)" stroke-width="0.6"/>
<path d="M262 878 C258 884 258 896 262.5 903" stroke-width="0.7"/>
<!-- clamp 13 -->
<ellipse cx="296" cy="878.4" rx="14" ry="17.6" transform="rotate(-20 296 878.4)" stroke-width="1.1"/>
<ellipse cx="296.7" cy="878.4" rx="12.2" ry="15.9" transform="rotate(-20 296.7 878.4)" stroke-width="0.7"/>
<ellipse cx="297.6" cy="878.4" rx="10.8" ry="14.6" transform="rotate(-20 297.6 878.4)" fill="none"/>
<path d="M287 863 L289.5 859.5 L293.5 859.3 L296.5 861.5 L300.5 860.5 L304 862 L305.7 865.5 L301.5 868 L290.5 868 Z" stroke-width="1"/>
<path d="M289 861 L292.5 865 M294.5 860.5 L296.5 866 M299.5 861 L302 866.5" stroke-width="1.1"/>
<!-- impeller 20 -->
<ellipse cx="254.3" cy="946.2" rx="10" ry="16.4" transform="rotate(-6 254.3 946.2)" stroke-width="1.3"/>
<path d="M252 932 C256 931 260 932.5 263 935.5 C266 937 268.5 938.5 269 940.5 L266 941 L261 939 L257 938 C255 936 253 934 252 932 Z" stroke-width="1.1" fill="#fff"/>
<path d="M259.3 939.2 L265 940 L267.5 942 L267.5 956 L260 956.2 Z" stroke-width="1.1" fill="#fff"/>
<path d="M265 940 L265 955.5" stroke-width="0.8"/>
<path d="M252 939 C250 942 250 948 252.5 951 C255 953 258 952 259.3 949 L259.3 942 C257 939 254 938 252 939 Z" fill="#666" stroke-width="1"/>
<path d="M249 940 C249 936 251 934 253 933 M248.5 948 C249 952 250.5 954 253 955" stroke-width="1.3"/>
<path d="M249 955 L258.3 957" stroke-width="1.8"/>
<path d="M249.5 958.5 C252 960 256 961 259 959.5" stroke-width="1"/>
<!-- cartridge 7 -->
<path d="M288 940 L304 941 L304 967 L288 966 Z"/>
<path d="M280.5 945 C281 938 283 935 285.5 935 L289 935.5 L289 969 L285 969.5 C282 969 280 962 280.5 955 Z"/>
<ellipse cx="289" cy="952.2" rx="7.5" ry="16.8" transform="rotate(-4 289 952.2)"/>
<ellipse cx="289.5" cy="952.5" rx="5.5" ry="13.5" transform="rotate(-4 289.5 952.5)" stroke-width="0.6"/>
<path d="M282 941 L283.5 942 M281.5 950 L283 950.5 M282 960 L283.5 959.5 M284 966 L285.5 965" stroke-width="0.8"/>
<path d="M302.4 938.5 C302.4 937.5 310.2 937 310.2 938 L310.2 971 C310.2 972 302.4 972 302.4 971 Z"/>
<path d="M310.2 942 L313.4 941 C314 937 318 935.5 322 935.7 C327 936 330 938 330.7 942 L340 948.3 C345 951 348.5 956 348.5 961 C348.5 966 346.5 970 344.8 970.3 L310.2 971.8 Z"/>
<path d="M313.4 941 L330.7 942 M311 947 L342 950" stroke-width="0.7"/>
<ellipse cx="340.9" cy="960" rx="7" ry="11.5" transform="rotate(-6 340.9 960)"/>
<path d="M283 953.8 L302.4 957.7" stroke-width="1.4"/>
<path d="M313.4 957.7 L332.2 961" stroke-width="2.4" stroke="#444"/>
</g>
<g id="leaders" fill="none" stroke="#222" stroke-width="1.1">
<path d="M485 188.3 L600 189.4 L719.2 188"/>
<path d="M562 236.9 L600 237.3 L719.2 235.5"/>
<path d="M561.9 281.8 L600 282.3 L719.2 281.2"/>
<path d="M46 238 L108 238"/>
<path d="M46 333.5 L217 334"/>
<path d="M46 380.5 L269.5 380.5 L269.5 368.5"/>
<path d="M640 377.6 L719 378.7"/>
<path d="M540 458 L719 459.5"/>
<path d="M46 546.5 L132 546.5"/>
<path d="M649 607 L719 607"/>
<path d="M46 613 L78 613"/>
<path d="M46 651 L176.5 651 L176.5 586"/>
<path d="M46 765.5 L143 765.5"/>
<path d="M46 814.5 L143 814.5"/>
<path d="M308.7 881.6 L719.2 882.5"/>
<path d="M46 908 L80 908"/>
<path d="M262.6 904 L600 906.8 L719.5 908.3"/>
<path d="M348.3 959.2 L420 961 L600 964.7 L719.5 967"/>
<path d="M46 982.5 L205.5 986 L205.5 955"/>
<path d="M251.4 961.8 L251.4 996.6 L420 998.4 L600 1001 L719.5 1003.3"/>
<path d="M230 912.5 L230 1035 L420 1037.2 L600 1038.5 L719.5 1041.8"/>
</g>
<g id="callouts" fill="#fff" stroke="#222" stroke-width="1.1">
<circle cx="731.5" cy="188" r="12.3"/>
<circle cx="731.5" cy="235.5" r="12.3"/>
<circle cx="731.5" cy="281.2" r="12.3"/>
<circle cx="33.5" cy="238" r="12.3"/>
<circle cx="33" cy="333.8" r="12.3"/>
<circle cx="33.5" cy="381.2" r="12.3"/>
<circle cx="731.5" cy="378.7" r="12.3"/>
<circle cx="731.5" cy="459.5" r="12.3"/>
<circle cx="33.7" cy="546.5" r="12.3"/>
<circle cx="731.8" cy="607.1" r="12.3"/>
<circle cx="33.7" cy="613.5" r="12.3"/>
<circle cx="33.7" cy="651" r="12.3"/>
<circle cx="33.4" cy="765.5" r="12.3"/>
<circle cx="33.4" cy="814.3" r="12.3"/>
<circle cx="731.5" cy="882.5" r="12.3"/>
<circle cx="33" cy="908.3" r="12.3"/>
<circle cx="732" cy="908.3" r="12.3"/>
<circle cx="732" cy="967" r="12.3"/>
<circle cx="732" cy="1004.8" r="12.3"/>
<circle cx="33" cy="982.5" r="12.3"/>
<circle cx="732" cy="1041.8" r="12.3"/>
<circle cx="328" cy="1087.5" r="12.3"/>
</g>
<g id="labels">
<text x="732.4" y="193.0">17</text>
<text x="732.4" y="240.5">18</text>
<text x="732.4" y="286.2">19</text>
<text x="34.4" y="243.0">8</text>
<text x="33.9" y="338.8">10</text>
<text x="34.4" y="386.1">3</text>
<text x="732.4" y="383.7">11</text>
<text x="732.4" y="464.5">12</text>
<text x="34.6" y="551.5">16</text>
<text x="732.7" y="612.1">5</text>
<text x="34.6" y="618.5">4</text>
<text x="34.6" y="656.0">1</text>
<text x="34.3" y="770.5">6</text>
<text x="34.3" y="819.3">14</text>
<text x="732.4" y="887.5">13</text>
<text x="33.9" y="913.3">15</text>
<text x="732.9" y="913.3">9</text>
<text x="732.9" y="972.0">7</text>
<text x="732.9" y="1009.8">20</text>
<text x="33.9" y="987.5">21</text>
<text x="732.9" y="1046.8">2</text>
</g>
</svg>
</body></html>
